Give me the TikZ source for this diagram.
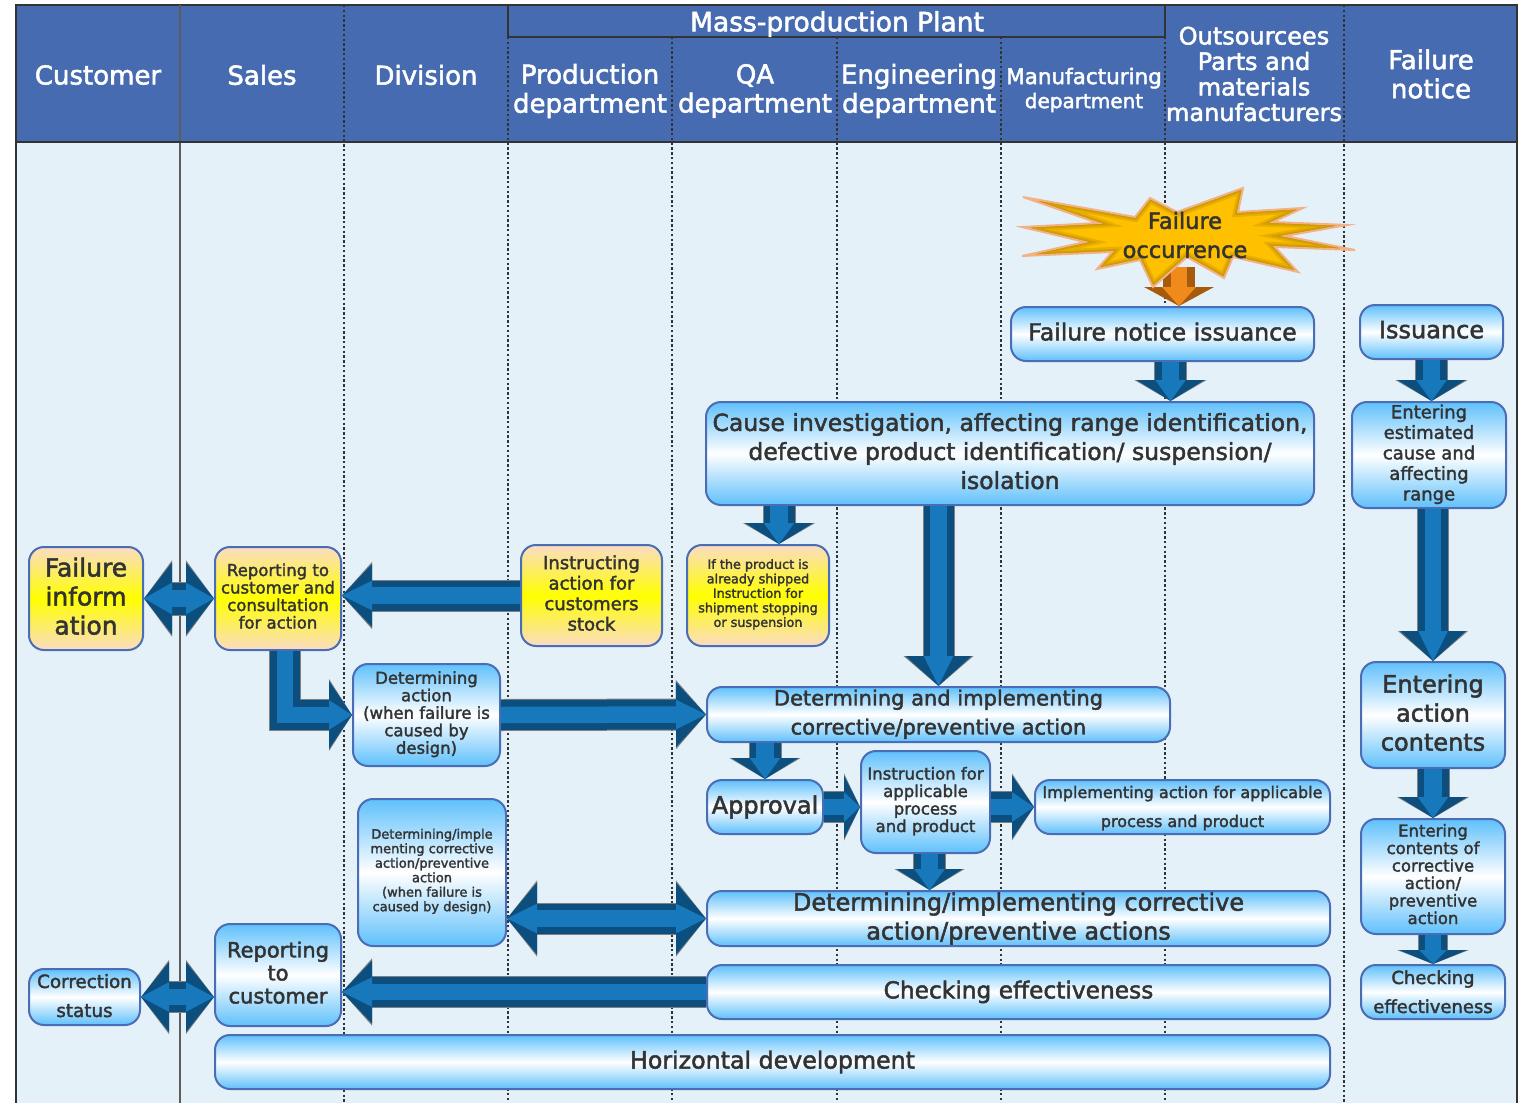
\documentclass[tikz,border=0pt]{standalone}
\usepackage{fontspec}
\setmainfont{DejaVu Sans}[FakeBold=2]
\usetikzlibrary{arrows.meta}
\definecolor{headblue}{HTML}{466BB0}
\definecolor{paleblue}{HTML}{E4F1F8}
\definecolor{edgeblue}{HTML}{4A6DB5}
\definecolor{skyblue}{HTML}{5FC0FB}
\definecolor{peach}{HTML}{FBDCC4}
\definecolor{inkgray}{HTML}{333333}
\definecolor{arrowdark}{HTML}{0C4F7E}
\definecolor{arrowlight}{HTML}{1878BC}
\definecolor{orangedark}{HTML}{A85A0C}
\definecolor{orangelight}{HTML}{F08A1C}
\definecolor{burstfill}{HTML}{FFC000}
\definecolor{burstedge}{HTML}{F4B183}
\newcommand{\fz}[2]{\fontsize{#1}{#2}\selectfont}
\newcommand{\burstpath}{(1023,197) -- (1135,217) -- (1150,198) -- (1177,212) -- (1243,188) -- (1238,212) -- (1303,208) -- (1273,222) -- (1347,225) -- (1285,236) -- (1355,250) -- (1275,247) -- (1298,272) -- (1233,257) -- (1224,278) -- (1187,257) -- (1153,287) -- (1140,260) -- (1097,269) -- (1112,252) -- (1022,256) -- (1085,242) -- (1022,227) -- (1098,223) -- cycle}
\tikzset{
	bluebox/.style={draw=edgeblue, line width=2pt, rounded corners=15pt, inner sep=0pt, align=center, text=inkgray, text depth=5pt,
		top color=skyblue, bottom color=skyblue, middle color=white},
	yellowbox/.style={bluebox, top color=peach, bottom color=peach, middle color=yellow},
	boxsize/.style 2 args={minimum width=#1pt, minimum height=#2pt},
	headtext/.style={text=white, align=center, inner sep=0pt, font=\fz{26}{29}},
	dotline/.style={line width=2.6pt, inkgray, dash pattern=on 2.4pt off 2.4pt},
	blockarrow/.style n args={3}{line width=#1*1pt, -{Triangle[length=#2pt, width=#3pt, line width=0pt]}, draw=arrowdark,
		preaction={draw=gray, line width=#1*1pt+2pt, -{Triangle[length=#2pt, width=#3pt 0.13, line width=0pt]}},
		postaction={draw=arrowlight, line width=0.55*#1*1pt, -{Triangle[length=#2pt, width=0pt 1.8, line width=0pt]}}},
	twinarrow/.style n args={3}{line width=#1*1pt, {Triangle[length=#2pt, width=#3pt, line width=0pt]}-{Triangle[length=#2pt, width=#3pt, line width=0pt]}, draw=arrowdark,
		preaction={draw=gray, line width=#1*1pt+2pt, {Triangle[length=#2pt, width=#3pt 0.13, line width=0pt]}-{Triangle[length=#2pt, width=#3pt 0.13, line width=0pt]}},
		postaction={draw=arrowlight, line width=0.55*#1*1pt, {Triangle[length=#2pt, width=0pt 1.8, line width=0pt]}-{Triangle[length=#2pt, width=0pt 1.8, line width=0pt]}}},
}
\begin{document}
\begin{tikzpicture}[x=1pt, y=-1pt]
	\useasboundingbox (0,0) rectangle (1524,1103);
	\fill[white] (0,0) rectangle (1524,1103);
	\fill[paleblue] (16,5) rectangle (1517,1103);
	\fill[headblue] (16,5) rectangle (1517,142);
	% swimlane lines
	\foreach \x in {344,1344}{
		\draw[dotline] (\x,5) -- (\x,1103);
	}
	\foreach \x in {508,672,837,1001,1165}{
		\draw[dotline] (\x,37) -- (\x,1103);
	}
	\draw[line width=2pt, inkgray] (16,1103) -- (16,5) -- (1517,5) -- (1517,1103);
	\draw[line width=2pt, inkgray!80] (180,5) -- (180,1103);
	\draw[line width=2pt, inkgray] (16,142) -- (1517,142);
	\draw[line width=2pt, inkgray] (508,5) -- (508,37) -- (1165,37) -- (1165,5);
	% header labels
	\foreach \x\y\t in {98/75/Customer,262/75/Sales,426/75/Division,590/91/Production\\department,755/91/QA\\department,919/91/Engineering\\department,1431/74/Failure\\notice}{
		\node[headtext] (head\x) at (\x,\y) {\t};
	}
	\node[headtext, font=\fz{26.5}{29}] (plant) at (837,24) {Mass-production Plant};
	\node[headtext, font=\fz{21.5}{24}] (headmanu) at (1084,90) {Manufacturing\\{\fz{20}{24}department}};
	\node[headtext, font=\fz{24}{25.5}] (headout) at (1254,74) {Outsourcees\\Parts and\\materials\\manufacturers};
	% left columns
	\node[yellowbox, boxsize={114}{103}, font=\fz{25}{29}] (finfo) at (86,598.5) {Failure\\inform\\ation};
	\node[yellowbox, boxsize={126}{103}, font=\fz{16.5}{17.5}] (repcons) at (278,598.5) {Reporting to\\customer and\\consultation\\for action};
	\node[yellowbox, boxsize={141}{101}, font=\fz{18}{20.5}] (instr) at (591.5,595.5) {Instructing\\action for\\customers\\stock};
	\node[yellowbox, boxsize={142}{101}, font=\fz{12.8}{14.5}] (ifprod) at (758,595.5) {If the product is\\already shipped\\Instruction for\\shipment stopping\\or suspension};
	\node[bluebox, boxsize={147}{102}, font=\fz{16.5}{17.5}] (detact) at (426.5,715) {Determining\\action\\(when failure is\\caused by\\design)};
	\node[bluebox, boxsize={148}{147}, font=\fz{13}{14.5}] (detimple) at (432,872.5) {Determining/imple\\menting corrective\\action/preventive\\action\\(when failure is\\caused by design)};
	\node[bluebox, boxsize={126}{102}, font=\fz{21}{23}] (repcust) at (278,975) {Reporting\\to\\customer};
	\node[bluebox, boxsize={111}{56}, font=\fz{18.3}{29}, text height=45pt] (correct) at (84.5,997) {Correction\\status};
	\node[bluebox, boxsize={1115}{54}, font=\fz{23.7}{29}] (horiz) at (772.5,1062) {Horizontal development};
	% middle columns
	\node[bluebox, boxsize={303}{54}, font=\fz{23.6}{29}] (notice) at (1162.5,334) {Failure notice issuance};
	\node[bluebox, boxsize={608}{103}, font=\fz{23.5}{29}] (cause) at (1010,453.5) {Cause investigation, affecting range identification,\\defective product identification/ suspension/\\isolation};
	\node[bluebox, boxsize={463}{55}, font=\fz{21}{29}] (detimpl) at (938.5,714.5) {Determining and implementing\\corrective/preventive action};
	\node[bluebox, boxsize={116}{54}, font=\fz{24}{29}] (approval) at (765,807) {Approval};
	\node[bluebox, boxsize={129}{102}, font=\fz{16.5}{17.5}] (applic) at (925.5,802) {Instruction for\\applicable\\process\\and product};
	\node[bluebox, boxsize={295}{54}, font=\fz{16}{29}, text height=45pt] (implact) at (1182.5,807) {Implementing action for applicable\\process and product};
	\node[bluebox, boxsize={623}{55}, font=\fz{24}{29}] (detprev) at (1018.5,918.5) {Determining/implementing corrective\\action/preventive actions};
	\node[bluebox, boxsize={623}{54}, font=\fz{23.3}{29}] (check) at (1018.5,992) {Checking effectiveness};
	% failure notice column
	\node[bluebox, boxsize={143}{54}, font=\fz{24}{29}] (issue) at (1431.5,332) {Issuance};
	\node[bluebox, boxsize={154}{106}, font=\fz{18}{20.5}] (entest) at (1429,455) {Entering\\estimated\\cause and\\affecting\\range};
	\node[bluebox, boxsize={144}{106}, font=\fz{24}{29}] (entact) at (1433,715) {Entering\\action\\contents};
	\node[bluebox, boxsize={144}{115}, font=\fz{16.5}{17.5}] (entcont) at (1433,876.5) {Entering\\contents of\\corrective\\action/\\preventive\\action};
	\node[bluebox, boxsize={144}{54}, font=\fz{18}{29}, text height=47pt] (checkr) at (1433,992) {Checking\\effectiveness};
	% occurrence star with its arrow underneath
	\coordinate (burst) at (1179,267);
	\draw[line width=32pt, -{Triangle[length=19pt, width=70pt, line width=0pt]}, draw=orangedark,
		postaction={draw=orangelight, line width=16pt, -{Triangle[length=19pt, width=34pt, line width=0pt]}}] (burst) -- (burst |- notice.north);
	\fill[burstfill] \burstpath;
	\begin{scope}
		\clip \burstpath;
		\foreach \w in {10,6,3}{
			\draw[line width=\w pt, black!60!burstfill, opacity=.15, line join=miter] \burstpath;
		}
	\end{scope}
	\draw[burstedge, line width=2pt, line join=miter] \burstpath;
	\node[text=inkgray, align=center, inner sep=0pt, font=\fz{22.5}{29}] (occur) at (1185,235) {Failure\\occurrence};
	% block arrows
	\draw[blockarrow={31}{21}{68}] ([xshift=8pt]notice.south) -- ([xshift=8pt]notice.south |- cause.north);
	\draw[blockarrow={31}{21}{68}] (issue.south) -- (issue.south |- entest.north);
	\draw[blockarrow={31}{21}{68}] ([xshift=21pt]ifprod.north |- cause.south) -- ([xshift=21pt]ifprod.north);
	\draw[blockarrow={30}{30}{66}] (detimpl.north |- cause.south) -- (detimpl.north);
	\draw[blockarrow={30}{30}{66}] (entact.north |- entest.south) -- (entact.north);
	\draw[blockarrow={31}{21}{68}] (entact.south) -- (entcont.north);
	\draw[blockarrow={28}{14}{68}] (entcont.south) -- (checkr.north);
	\draw[blockarrow={30}{30}{63}] (instr.west) -- (instr.west -| repcons.east);
	\draw[blockarrow={30}{23}{68}, line join=miter] ([xshift=7pt]repcons.south) |- (detact.west);
	\draw[blockarrow={30}{30}{65}] (detact.east) -- (detimpl.west);
	\draw[blockarrow={31}{21}{67}] (approval.north |- detimpl.south) -- (approval.north);
	\draw[blockarrow={30}{16}{63}] (approval.east) -- (approval.east -| applic.west);
	\draw[blockarrow={30}{22}{63}] (implact.west -| applic.east) -- (implact.west);
	\draw[blockarrow={31}{21}{66}] ([xshift=4pt]applic.south) -- ([xshift=4pt]applic.south |- detprev.north);
	\draw[blockarrow={30}{30}{63}] (check.west) -- (check.west -| repcust.east);
	\draw[twinarrow={30}{30}{72}] (detprev.west -| detimple.east) -- (detprev.west);
	\draw[twinarrow={32}{28}{72}] (finfo.east) -- (repcons.west);
	\draw[twinarrow={30}{28}{70}] (correct.east) -- (correct.east -| repcust.west);
\end{tikzpicture}
\end{document}
